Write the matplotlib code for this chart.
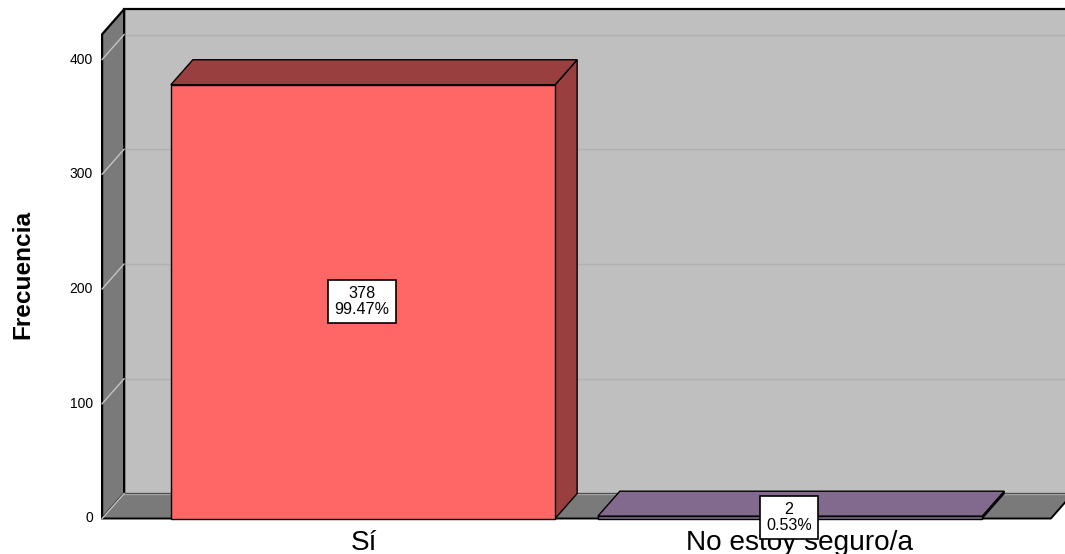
import matplotlib
matplotlib.use('Agg')
import matplotlib.pyplot as plt
from matplotlib.patches import Polygon

plt.rcParams['font.family'] = ['Liberation Sans', 'DejaVu Sans']

categories = ['Sí', 'No estoy seguro/a']
counts = [378, 2]
percents = ['99.47%', '0.53%']
y_ticks = [0, 100, 200, 300, 400]

front_colors = ['#FF6666', '#826A8E']
side_colors = ['#993F3F', '#4E4055']
top_colors = ['#993F3F', '#826A8E']

W, H = 1065, 554
px_per_cat = 427.0
px_per_val = 1.1475
x0_px = 363.0
y0_px = 518.5

# depth of the fake 3d box, in data units
dx = 22 / px_per_cat
dy = 25 / px_per_val
bar_w = 0.9
x_left = -0.611
x_right = 1.611
y_top = 422


def poly(ax, pts, fc, ec='black', lw=1.0, z=1):
    ax.add_patch(Polygon(pts, closed=True, facecolor=fc, edgecolor=ec,
                         linewidth=lw, zorder=z, joinstyle='miter'))


fig = plt.figure(figsize=(W / 100, H / 100), dpi=100)
ax = fig.add_axes([0, 0, 1, 1])
ax.set_xlim(-x0_px / px_per_cat, (W - x0_px) / px_per_cat)
ax.set_ylim((y0_px - H) / px_per_val, y0_px / px_per_val)
ax.axis('off')

# back wall, side wall, floor
poly(ax, [(x_left + dx, dy), (x_right + dx, dy), (x_right + dx, y_top + dy),
          (x_left + dx, y_top + dy)], '#BFBFBF', lw=1.6)
poly(ax, [(x_left, 0), (x_left + dx, dy), (x_left + dx, y_top + dy),
          (x_left, y_top)], '#7A7A7A', lw=1.6, z=2)
poly(ax, [(x_left, 0), (x_right, 0), (x_right + dx, dy), (x_left + dx, dy)],
     '#7A7A7A', ec='none', z=2)
ax.plot([x_left, x_right, x_right + dx], [0, 0, dy], color='black', lw=1.4, zorder=3)
ax.plot([x_left + dx, x_right + dx], [dy, dy], color='#A0A0A0', lw=1.0, zorder=3)

# grid lines
for t in y_ticks:
    ax.plot([x_left, x_left + dx], [t, t + dy], color='#C4C4C4', lw=1.0, zorder=3)
    if t > 0:
        ax.plot([x_left + dx, x_right + dx], [t + dy, t + dy], color='#B0B0B0',
                lw=1.0, zorder=1.5)
    ax.text(x_left - 9 / px_per_cat, t, str(t), ha='right', va='center',
            fontsize=10, color='black', zorder=6)

# bars
for i, v in enumerate(counts):
    l, r = i - bar_w / 2, i + bar_w / 2
    poly(ax, [(r, 0), (r + dx, dy), (r + dx, v + dy), (r, v)], side_colors[i], z=4)
    poly(ax, [(l, v), (r, v), (r + dx, v + dy), (l + dx, v + dy)], top_colors[i], z=4)
    poly(ax, [(l, 0), (r, 0), (r, v), (l, v)], front_colors[i], z=4)
    ax.text(i + (10 if i else 1) / px_per_cat, -24 / px_per_val, categories[i], ha='center', va='center',
            fontsize=20.2, color='black', zorder=5)

# value boxes go over the category labels
for i, v in enumerate(counts):
    ax.text(i - 1 / px_per_cat, v / 2, f'{v}\n{percents[i]}', ha='center', va='center', fontsize=11.6,
            linespacing=1.05, color='black', zorder=7,
            bbox=dict(boxstyle='square,pad=0.4', facecolor='white', edgecolor='black', linewidth=1.2))

ax.text(-340 / px_per_cat, (518 - 274) / px_per_val, 'Frecuencia', rotation=90,
        ha='center', va='center', fontsize=17.6, fontweight='bold', color='black')

fig.savefig('out.png', dpi=100)
